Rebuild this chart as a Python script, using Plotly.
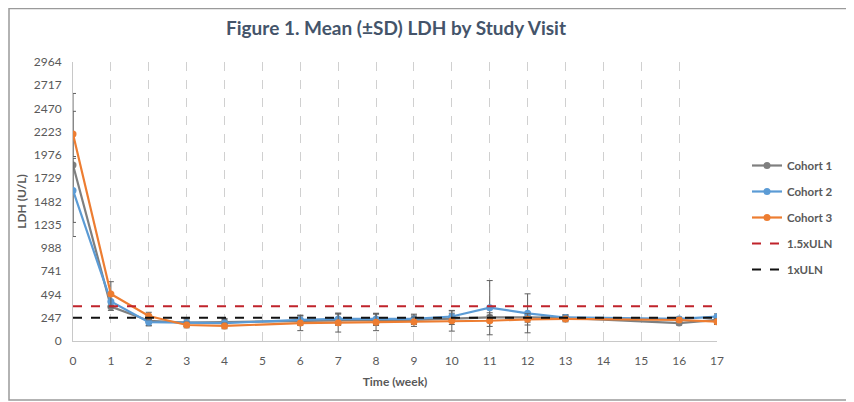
import plotly.graph_objects as go

weeks = [0, 1, 2, 3, 4, 6, 7, 8, 9, 10, 11, 12, 13, 16, 17]
cohort1 = [1870, 365, 215, 195, 200, 215, 225, 225, 225, 235, 250, 250, 245, 190, 225]
cohort1_sd = [760, 40, 50, 40, 40, 50, 60, 60, 50, 60, 50, 50, 30, 20, 30]
cohort2 = [1600, 420, 200, 195, 190, 225, 235, 235, 235, 260, 354, 294, 250, 235, 258]
cohort2_sd = [340, 60, 40, 40, 40, 50, 60, 60, 50, 60, 288, 207, 30, 20, 30]
cohort3 = [2200, 500, 265, 170, 160, 190, 195, 200, 205, 215, 215, 230, 234, 223, 205]
cohort3_sd = [240, 130, 40, 30, 30, 80, 100, 90, 50, 110, 60, 60, 30, 20, 30]
uln_x = [0, 17]
uln_1x = [247, 247]
uln_15x = [370.5, 370.5]
y_ticks = [0, 247, 494, 741, 988, 1235, 1482, 1729, 1976, 2223, 2470, 2717, 2964]
x_ticks = list(range(0, 18))

FONT = "Lato"
TXT = "#595959"

fig = go.Figure()

def cohort(name, y, sd, color):
    fig.add_trace(go.Scatter(
        x=weeks, y=y, name=name, mode="lines+markers", legendgroup=name,
        line=dict(color=color, width=2.2),
        marker=dict(color=color, size=7),
        error_y=dict(type="data", array=sd, visible=True, color="#606060", thickness=1, width=3),
    ))

cohort("Cohort 1", cohort1, cohort1_sd, "#7F7F7F")
cohort("Cohort 2", cohort2, cohort2_sd, "#5B9BD5")
cohort("Cohort 3", cohort3, cohort3_sd, "#ED7D31")

fig.add_trace(go.Scatter(x=uln_x, y=uln_15x, name="1.5xULN", mode="lines", legendgroup="a",
                         line=dict(color="#C0232B", width=2, dash="dash")))
fig.add_trace(go.Scatter(x=uln_x, y=uln_1x, name="1xULN", mode="lines", legendgroup="b",
                         line=dict(color="#111111", width=2, dash="dash")))

# page has an 8px body margin; work in page coordinates and convert
OFF = 8
W, H = 854 - OFF, 402 - OFF
L, R, T, B = 73 - OFF, 717 - OFF, 62 - OFF, 341 - OFF
pw, ph = R - L, B - T

def px(xp):
    return (xp - OFF - L) / pw

def py(yp):
    return (B - (yp - OFF)) / ph

fig.update_layout(
    width=W, height=H,
    margin=dict(l=L, r=W - R, t=T, b=H - B, pad=0),
    paper_bgcolor="white", plot_bgcolor="white",
    font=dict(family=FONT, color=TXT, size=11),
    title=dict(text="<b>Figure 1. Mean (±SD) LDH by Study Visit</b>",
               x=(396 - OFF) / W, xanchor="center", y=1 - (28 - OFF) / H, yanchor="middle",
               font=dict(family=FONT, size=19, color="#44546A")),
    showlegend=True,
    legend=dict(x=px(747), y=py(151), xanchor="left", yanchor="top",
                font=dict(family=FONT, size=11.5, color=TXT, weight="bold"),
                tracegroupgap=7, bgcolor="rgba(0,0,0,0)", itemwidth=30),
    xaxis=dict(range=[0, 17], tickvals=x_ticks, ticktext=[str(v) for v in x_ticks],
               showgrid=True, gridcolor="#D0D0D0", griddash="dash", gridwidth=1,
               showline=True, linecolor="#C8C8C8", linewidth=1, zeroline=False,
               ticks="", tickfont=dict(size=12, color=TXT), ticklabelstandoff=9,
               title=dict(text="<b>Time (week)</b>", font=dict(size=12, color=TXT), standoff=10)),
    yaxis=dict(range=[0, 2964], tickvals=y_ticks, ticktext=[str(v) for v in y_ticks],
               showgrid=False, showline=True, linecolor="#C8C8C8", linewidth=1, zeroline=False,
               ticks="", tickfont=dict(size=12, color=TXT), ticklabelstandoff=8,
               title=dict(text="<b>LDH (U/L)</b>", font=dict(size=12, color=TXT), standoff=4)),
)

fig.add_shape(type="rect", xref="paper", yref="paper",
              x0=px(9), x1=px(870), y0=py(400), y1=py(8.5),
              line=dict(color="#9A9A9A", width=1.5), fillcolor="rgba(0,0,0,0)", layer="below")

fig.write_html("out.html")
